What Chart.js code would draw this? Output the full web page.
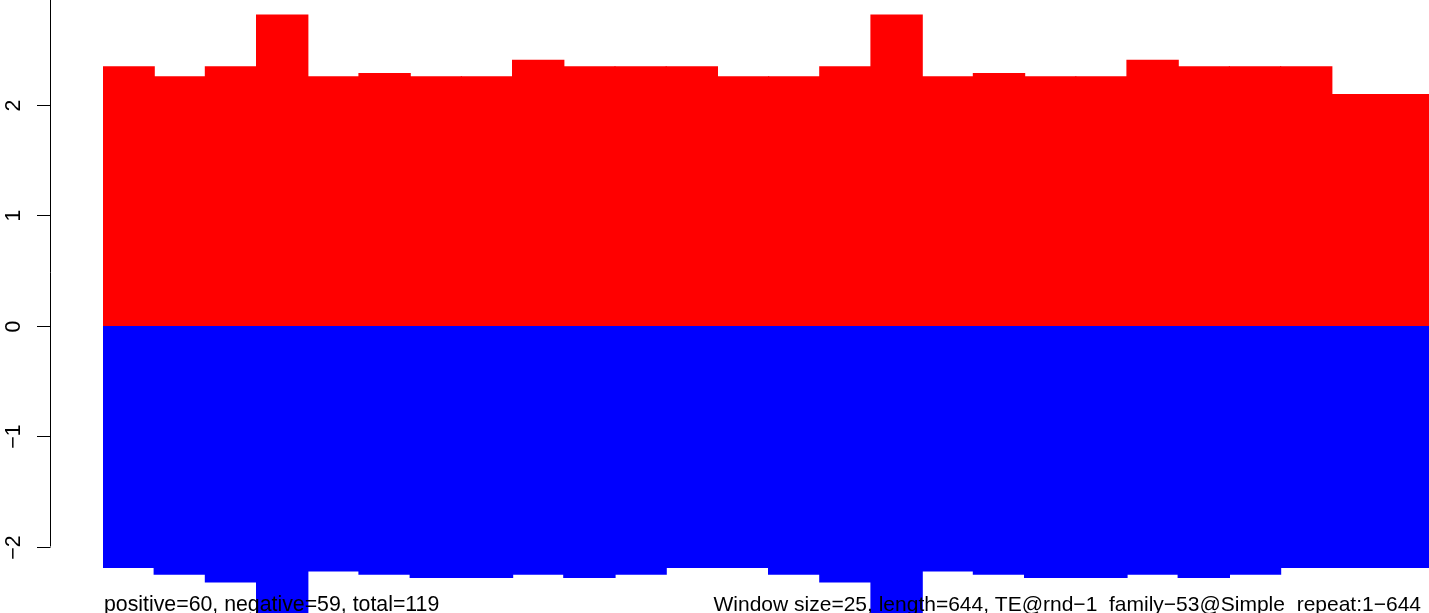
<!DOCTYPE html>
<html>
<head>
<meta charset="utf-8">
<script src="https://cdn.jsdelivr.net/npm/chart.js@4"></script>
<style>
  html, body { margin: 0; padding: 0; background: #fff; overflow: hidden; }
  #wrap { width: 1440px; height: 613px; }
</style>
</head>
<body>
<div id="wrap"><canvas id="chart_1"></canvas></div>
<script>
// windows along the sequence (26 visible bars)
const windows = ["1","2","3","4","5","6","7","8","9","10","11","12","13",
  "14","15","16","17","18","19","20","21","22","23","24","25","26"];
const positiveVals = [2.34, 2.25, 2.34, 2.81, 2.25, 2.28, 2.25, 2.25, 2.40, 2.34, 2.34, 2.34, 2.25,
  2.25, 2.34, 2.81, 2.25, 2.28, 2.25, 2.25, 2.40, 2.34, 2.34, 2.34, 2.09, 2.09];
const negativeVals = [-2.19, -2.25, -2.32, -2.85, -2.22, -2.25, -2.28, -2.28, -2.25, -2.28, -2.25, -2.19, -2.19,
  -2.25, -2.32, -2.85, -2.22, -2.25, -2.28, -2.28, -2.25, -2.28, -2.25, -2.19, -2.19, -2.19];
const yTicks = [-2, -1, 0, 1, 2];
const yTickLabels = ["\u22122", "\u22121", "0", "1", "2"];
const leftNote = "positive=60, negative=59, total=119";
const rightNote = "Window size=25, length=644, TE@rnd\u22121_family\u221253@Simple_repeat:1\u2212644";

const FAMILY = "'Liberation Sans', Arial, Helvetica, sans-serif";

// R-style left axis + notes under the plot
const rAxis = {
  id: "rAxis",
  afterDraw(chart) {
    const ctx = chart.ctx;
    const y = chart.scales.y;
    const axX = 50.5;
    ctx.save();
    ctx.strokeStyle = "#000";
    ctx.lineWidth = 1;
    ctx.beginPath();
    ctx.moveTo(axX, y.getPixelForValue(yTicks[0]));
    ctx.lineTo(axX, y.getPixelForValue(3));
    ctx.stroke();
    ctx.font = "21.3px " + FAMILY;
    ctx.fillStyle = "#000";
    ctx.textAlign = "center";
    ctx.textBaseline = "middle";
    yTicks.forEach((v, i) => {
      const py = Math.round(y.getPixelForValue(v)) + 0.5;
      ctx.beginPath();
      ctx.moveTo(37, py);
      ctx.lineTo(axX, py);
      ctx.stroke();
      ctx.save();
      ctx.translate(14, py);
      ctx.rotate(-Math.PI / 2);
      ctx.fillText(yTickLabels[i], 0, 0);
      ctx.restore();
    });
    ctx.textBaseline = "alphabetic";
    ctx.textAlign = "left";
    ctx.fillText(leftNote, 104, 611);
    ctx.font = "21px " + FAMILY;
    ctx.textAlign = "right";
    ctx.fillText(rightNote, 1421, 611);
    ctx.restore();
  }
};

const ct_1 = document.getElementById("chart_1");

new Chart(ct_1, {
  type: "bar",
  data: {
    labels: windows,
    datasets: [
      {
        label: "positive",
        data: positiveVals,
        backgroundColor: "#ff0000",
        borderWidth: 0,
        inflateAmount: 0.6,
        barPercentage: 1,
        categoryPercentage: 1,
      },
      {
        label: "negative",
        data: negativeVals,
        backgroundColor: "#0000ff",
        borderWidth: 0,
        inflateAmount: 0.6,
        barPercentage: 1,
        categoryPercentage: 1,
      },
    ],
  },
  options: {
    responsive: true,
    maintainAspectRatio: false,
    animation: false,
    layout: { padding: { left: 103, right: 5.8, top: 0, bottom: 0 } },
    plugins: {
      legend: { display: false },
      tooltip: { enabled: false },
    },
    scales: {
      x: { display: false, stacked: true },
      y: { display: false, stacked: true, min: -2.6018, max: 2.9457 },
    },
  },
  plugins: [rAxis],
});
</script>
</body>
</html>
